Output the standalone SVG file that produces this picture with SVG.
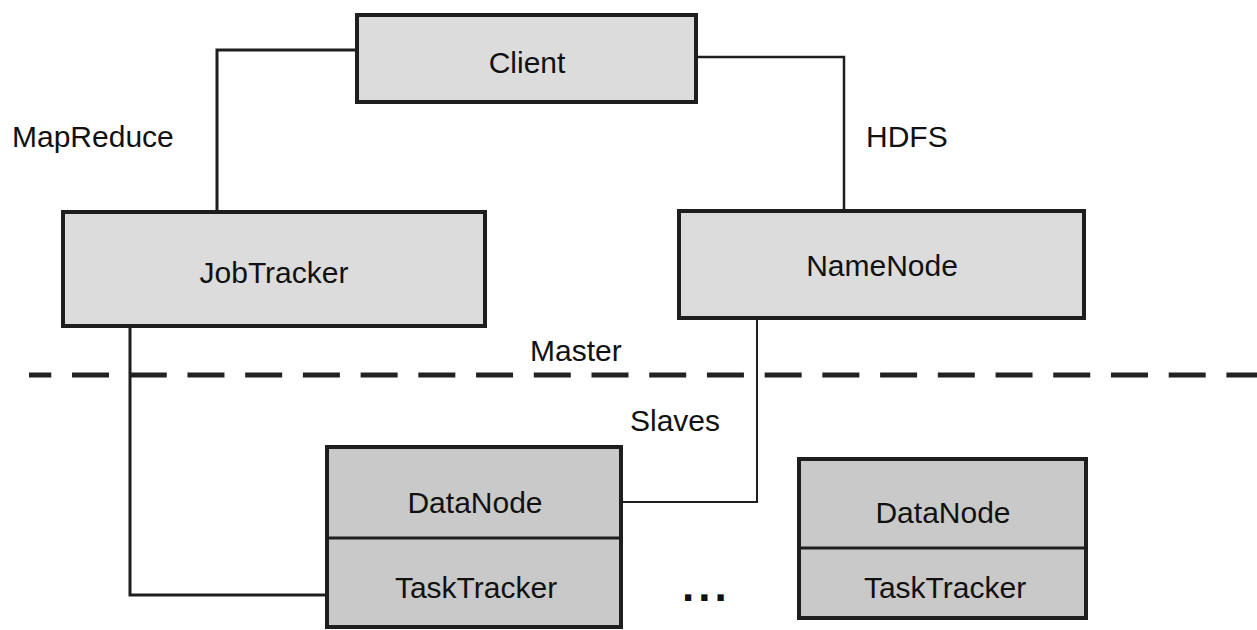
<svg xmlns="http://www.w3.org/2000/svg" width="1257" height="630" viewBox="0 0 1257 630">
  <style>
    .box { fill: #dcdcdc; stroke: #1e1e1e; stroke-width: 4; }
    .slave { fill: #c9c9c9; stroke: #1e1e1e; stroke-width: 4; }
    .div { stroke: #1e1e1e; stroke-width: 3; }
    .lbl { font-family: "Liberation Sans", Arial, Helvetica, sans-serif; font-size: 30px; fill: #111; }
    .mid { text-anchor: middle; }
    .wire { fill: none; stroke: #1e1e1e; stroke-linejoin: miter; }
  </style>
  <rect width="1257" height="630" fill="#ffffff"/>

  <!-- master / slave boundary -->
  <line x1="29" y1="375" x2="1257" y2="375" stroke="#222" stroke-width="5" stroke-dasharray="37 20.72" stroke-dashoffset="14.7"/>
  <text class="lbl" x="530" y="361">Master</text>
  <text class="lbl" x="630" y="431">Slaves</text>

  <!-- connectors -->
  <g id="connectors">
    <path class="wire" stroke-width="3" d="M357,50 H217 V211"/>
    <path class="wire" stroke-width="2.5" d="M696,57 H844 V211"/>
    <path class="wire" stroke-width="3" d="M130,326 V595 H327"/>
    <path class="wire" stroke-width="2" d="M757,318 V502 H621"/>
    <text class="lbl" x="12" y="147">MapReduce</text>
    <text class="lbl" x="866" y="147">HDFS</text>
  </g>

  <g id="client">
    <rect class="box" x="357" y="15" width="339" height="87"/>
    <text class="lbl mid" x="527" y="73">Client</text>
  </g>

  <g id="jobtracker">
    <rect class="box" x="63" y="212" width="422" height="114"/>
    <text class="lbl mid" x="274" y="283">JobTracker</text>
  </g>

  <g id="namenode">
    <rect class="box" x="679" y="211" width="405" height="107"/>
    <text class="lbl mid" x="882" y="276">NameNode</text>
  </g>

  <g id="slave1">
    <rect class="slave" x="327" y="447" width="294" height="180"/>
    <line class="div" x1="327" y1="538" x2="621" y2="538"/>
    <text class="lbl mid" x="475" y="513">DataNode</text>
    <text class="lbl mid" x="476" y="598">TaskTracker</text>
  </g>

  <g id="ellipsis">
    <text class="lbl" x="682" y="601" style="font-size:44px;font-weight:bold;letter-spacing:4px">...</text>
  </g>

  <g id="slave2">
    <rect class="slave" x="799" y="459" width="287" height="159"/>
    <line class="div" x1="799" y1="548" x2="1086" y2="548" stroke-width="2"/>
    <text class="lbl mid" x="943" y="523">DataNode</text>
    <text class="lbl mid" x="945" y="598">TaskTracker</text>
  </g>
</svg>
